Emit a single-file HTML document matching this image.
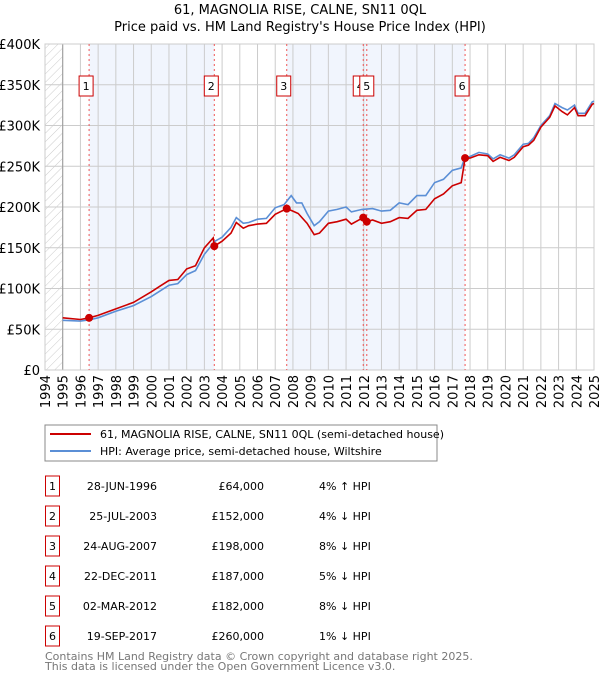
<!DOCTYPE html>
<html><head><meta charset="utf-8"><style>
body{margin:0;background:#fff;font-family:"Liberation Sans","DejaVu Sans",sans-serif;}
svg text{font-family:"DejaVu Sans","Liberation Sans",sans-serif;}
</style></head><body>
<svg id="c" width="600" height="680" viewBox="0 0 600 680" xmlns="http://www.w3.org/2000/svg">
<defs><pattern id="hatch" width="6" height="6" patternUnits="userSpaceOnUse" patternTransform="rotate(45)"><line x1="0" y1="0" x2="0" y2="6" stroke="#ccc" stroke-width="1"/></pattern></defs>
<text x="300" y="14" text-anchor="middle" font-size="13">61, MAGNOLIA RISE, CALNE, SN11 0QL</text>
<text x="300" y="31" text-anchor="middle" font-size="13">Price paid vs. HM Land Registry's House Price Index (HPI)</text>
<g id="plot"></g>
<g>
<rect x="45" y="425" width="392" height="36" fill="#fff" stroke="#888"/>
<line x1="50" y1="434" x2="91" y2="434" stroke="#cc0000" stroke-width="2"/>
<text x="100" y="438" font-size="11">61, MAGNOLIA RISE, CALNE, SN11 0QL (semi-detached house)</text>
<line x1="50" y1="451" x2="91" y2="451" stroke="#5b8fd6" stroke-width="2"/>
<text x="100" y="455" font-size="11">HPI: Average price, semi-detached house, Wiltshire</text>
</g>
<g id="table"></g>
<text x="45" y="660" font-size="11" fill="#777">Contains HM Land Registry data © Crown copyright and database right 2025.</text>
<text x="45" y="670" font-size="11" fill="#777">This data is licensed under the Open Government Licence v3.0.</text>
</svg>
<script>
const hpiYears=[1995,1996,1996.5,1997,1998,1999,2000,2000.5,2001,2001.5,2002,2002.5,2003,2003.6,2004,2004.5,2004.8,2005.2,2005.5,2006,2006.5,2007,2007.5,2007.9,2008.2,2008.5,2008.8,2009.2,2009.5,2010,2010.5,2011,2011.3,2011.9,2012.5,2013,2013.5,2014,2014.5,2015,2015.5,2016,2016.5,2017,2017.5,2017.7,2018,2018.5,2019,2019.3,2019.7,2020.2,2020.5,2021,2021.3,2021.6,2022,2022.5,2022.8,2023.2,2023.5,2023.9,2024.1,2024.5,2024.9,2025];
const hpiValues=[61,60,61.5,64,72,79,90,97,104,106,117,122,142,158,163,175,187,180,181,185,186,199,203,214,205,205,192,177,182,195,197,200,194,197,198,195,196,205,203,214,214,230,234,245,248,260,262,267,265,259,264,260,264,277,278,285,300,312,327,322,319,325,315,315,329,330];
const priceYears=[1995,1996,1996.49,1997,1998,1999,2000,2000.5,2001,2001.5,2002,2002.5,2003,2003.5,2003.56,2004,2004.5,2004.8,2005.2,2005.5,2006,2006.5,2007,2007.65,2008,2008.3,2008.8,2009.2,2009.5,2010,2010.5,2011,2011.3,2011.97,2012.17,2012.5,2013,2013.5,2014,2014.5,2015,2015.5,2016,2016.5,2017,2017.5,2017.72,2018,2018.5,2019,2019.3,2019.7,2020.2,2020.5,2021,2021.3,2021.6,2022,2022.5,2022.8,2023.2,2023.5,2023.9,2024.1,2024.5,2024.9,2025];
const priceValues=[64,62,64,67,75,83,96,103,110,111,124,128,150,162,152,158,168,181,174,177,179,180,191,198,195,192,180,166,168,180,182,185,179,187,182,184,180,182,187,186,196,197,210,216,226,230,260,260,264,263,256,261,257,261,274,276,282,298,310,324,317,313,322,312,312,326,327];
const saleLabels=["1","2","3","4","5","6"];
const saleYears=[1996.49,2003.56,2007.65,2011.97,2012.17,2017.72];
const saleValues=[64,152,198,187,182,260];
const saleDates=["28-JUN-1996","25-JUL-2003","24-AUG-2007","22-DEC-2011","02-MAR-2012","19-SEP-2017"];
const salePrices=["£64,000","£152,000","£198,000","£187,000","£182,000","£260,000"];
const saleHpi=["4% ↑ HPI","4% ↓ HPI","8% ↓ HPI","5% ↓ HPI","8% ↓ HPI","1% ↓ HPI"];
const yTicks=[0,50,100,150,200,250,300,350,400];
const yTickLabels=["£0","£50K","£100K","£150K","£200K","£250K","£300K","£350K","£400K"];
const xTicks=[1994,1995,1996,1997,1998,1999,2000,2001,2002,2003,2004,2005,2006,2007,2008,2009,2010,2011,2012,2013,2014,2015,2016,2017,2018,2019,2020,2021,2022,2023,2024,2025];

const L=45,R=594,T=44,B=370,X0=1994,X1=2025,YMAX=400;
const xs=v=>L+(v-X0)/(X1-X0)*(R-L);
const ys=v=>B-v/YMAX*(B-T);
const NS="http://www.w3.org/2000/svg";
const plot=document.getElementById('plot');
function mk(tag,attrs,parent){const e=document.createElementNS(NS,tag);for(const k in attrs)e.setAttribute(k,attrs[k]);(parent||plot).appendChild(e);return e;}

const bands=[[saleYears[0],saleYears[1]],[saleYears[2],saleYears[5]]];
bands.forEach(bd=>{
  const r=mk('rect',{x:xs(bd[0]),y:T,width:xs(bd[1])-xs(bd[0]),height:B-T,fill:'#eef3fc',opacity:0.8});
  
  
});
const h=mk('rect',{x:L,y:T,width:xs(1995)-L,height:B-T,fill:'url(#hatch)'});


yTicks.forEach((v,i)=>{
  const g=mk('line',{x1:L,x2:R,y1:ys(v),y2:ys(v),stroke:'#cccccc'});
  
  
  const t=mk('text',{x:40,y:ys(v)+5,'text-anchor':'end','font-size':13});
  t.textContent=yTickLabels[i];
  
  
});
xTicks.forEach(v=>{
  const g=mk('line',{x1:xs(v),x2:xs(v),y1:T,y2:B,stroke:'#cccccc'});
  
  
  const t=mk('text',{x:0,y:0,'text-anchor':'end','font-size':13,transform:`translate(${xs(v)+5},${B+5}) rotate(-90)`});
  t.textContent=v;
  
  
});
const ax=mk('line',{x1:xs(1995),x2:xs(1995),y1:T,y2:B,stroke:'#999'});


const fr=mk('rect',{x:L,y:T,width:R-L,height:B-T,fill:'none',stroke:'#cccccc'});


saleYears.forEach(v=>{
  const l=mk('line',{x1:xs(v),x2:xs(v),y1:T,y2:B,stroke:'#ee5555','stroke-dasharray':'2,3','stroke-width':1});
  
  
});
const pts=(xa,va)=>xa.map((x,i)=>xs(x).toFixed(1)+','+ys(va[i]).toFixed(1)).join(' ');
const hp=mk('polyline',{points:pts(hpiYears,hpiValues),fill:'none',stroke:'#5b8fd6','stroke-width':1.6});


const pp=mk('polyline',{points:pts(priceYears,priceValues),fill:'none',stroke:'#cc0000','stroke-width':1.6});


saleYears.forEach((v,i)=>{
  const c=mk('circle',{cx:xs(v),cy:ys(saleValues[i]),r:4,fill:'#cc0000'});
  
  
});
saleYears.forEach((v,i)=>{
  const g=mk('g',{});
  
  
  const bx=xs(v)-(i===4?0:3);
  mk('rect',{x:bx-7,y:76,width:14,height:20,fill:'#fff',stroke:'#cc0000'},g);
  const t=mk('text',{x:bx,y:90,'text-anchor':'middle','font-size':11},g);
  t.textContent=saleLabels[i];
});
const tb=document.getElementById('table');
saleLabels.forEach((s,i)=>{
  const y=483+30*i;
  const g=mk('g',{},tb);
  
  
  mk('rect',{x:45.5,y:y-7,width:14,height:20,fill:'#fff',stroke:'#cc0000'},g);
  const n=mk('text',{x:52.5,y:y+7,'text-anchor':'middle','font-size':11},g);n.textContent=s;
  const d=mk('text',{x:157,y:y+7,'text-anchor':'end','font-size':11},g);d.textContent=saleDates[i];
  const p=mk('text',{x:264,y:y+7,'text-anchor':'end','font-size':11},g);p.textContent=salePrices[i];
  const q=mk('text',{x:319,y:y+7,'font-size':11},g);q.textContent=saleHpi[i];
});
</script>
</body></html>
